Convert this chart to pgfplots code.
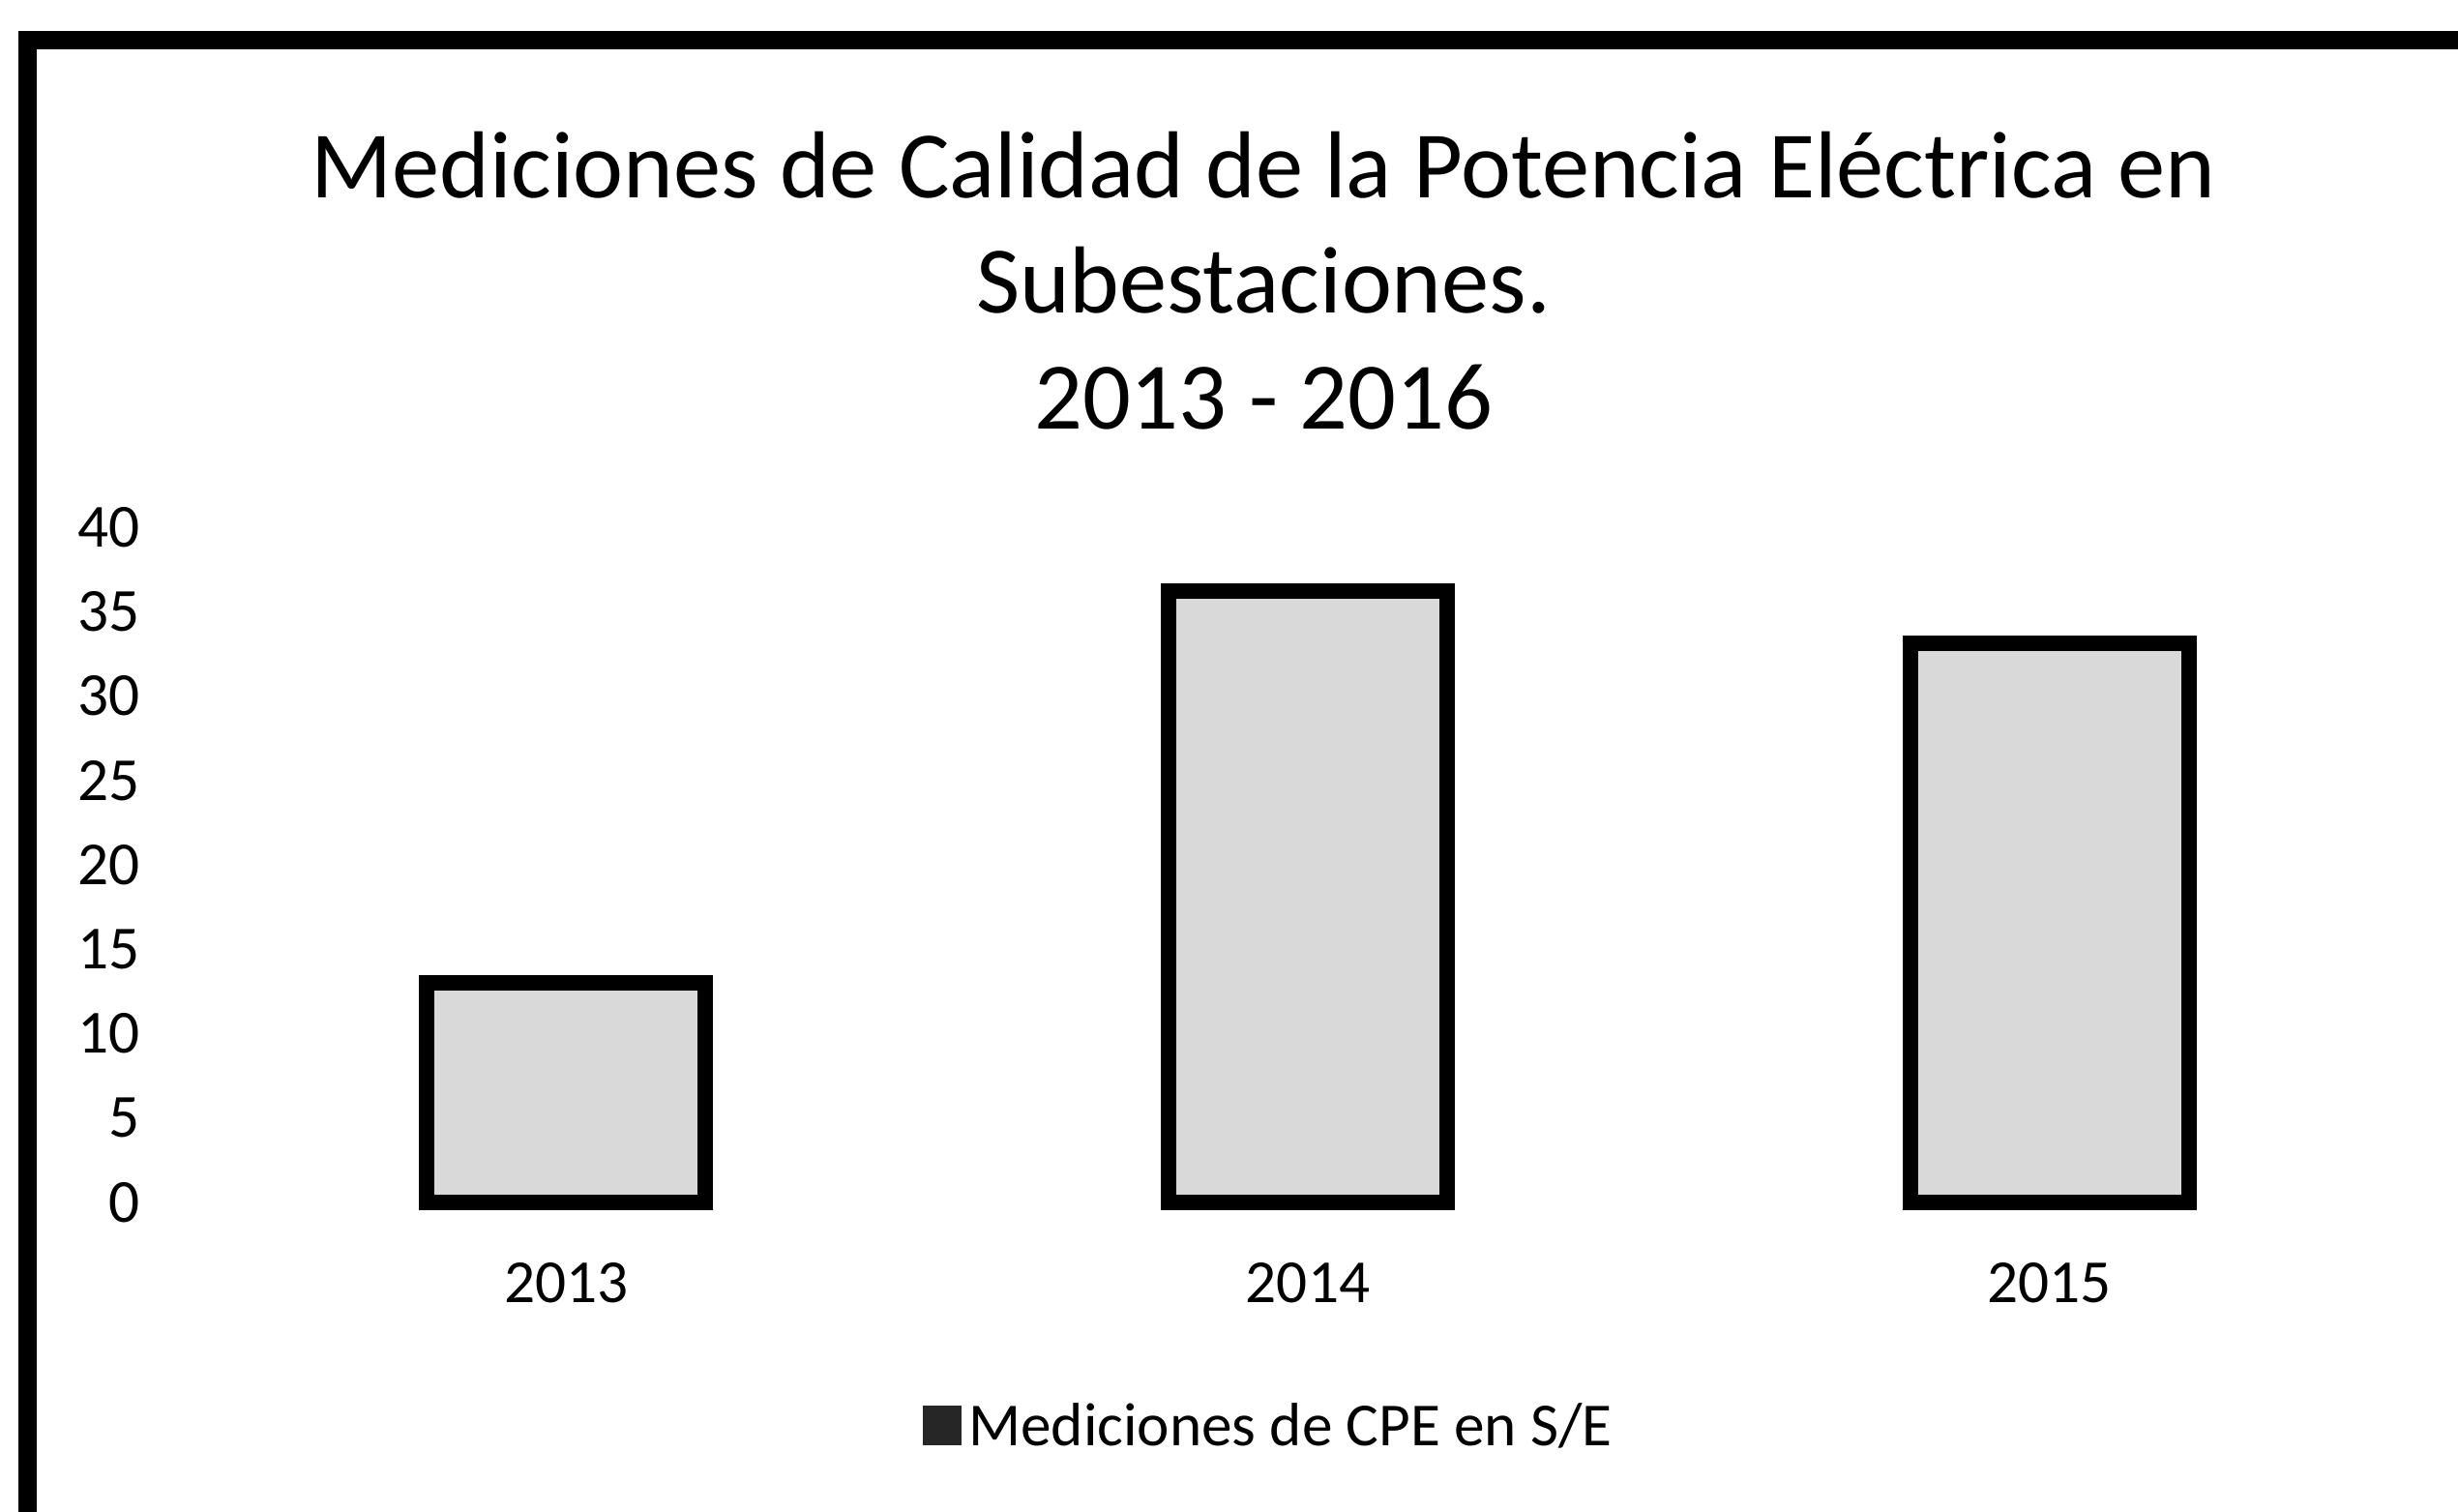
\documentclass[border=0pt]{standalone}
\usepackage{pgfplots}
\pgfplotsset{compat=1.18}
\usepackage{fontspec}
\setmainfont{Carlito}
\begin{document}
\begin{tikzpicture}[x=1cm,y=1cm]
\path[use as bounding box] (0,0) rectangle (25.41,15.62);
% frame (top and left edges visible)
\draw[line width=0.19cm, line cap=rect] (0.28,0) -- (0.28,15.2) -- (25.41,15.2);
\node[align=center, font=\fontsize{28}{34}\selectfont] at (13.06,12.72)
  {Mediciones de Calidad de la Potencia Eléctrica en\\Subestaciones.\\2013 - 2016};
\begin{axis}[
  at={(2.02cm,3.19cm)}, anchor=south west,
  scale only axis, width=23.0cm, height=6.98cm,
  xmin=-0.5, xmax=2.5, ymin=0, ymax=40,
  ybar, bar width=2.88cm, bar shift=0pt,
  clip=false,
  axis line style={draw=none},
  major tick length=0pt,
  xtick={0,1,2}, xticklabels={2013,2014,2015},
  ytick={0,5,...,40},
  /pgf/number format/assume math mode=true,
  tick label style={font=\fontsize{18}{22}\selectfont},
  yticklabel style={xshift=-0.45cm},
  xticklabel style={yshift=-0.5cm},
  legend style={at={(0.4835,-0.332)}, anchor=center, draw=none,
    font=\fontsize{18}{22}\selectfont, legend cell align=left},
  legend image code/.code={\fill[black!85] (0.02cm,-0.11cm) rectangle (0.26cm,0.14cm);},
]
\addplot[draw=black, line width=0.16cm, fill=black!15] coordinates {(0,13) (1,36.2) (2,33.1)};
\addlegendentry{Mediciones de CPE en S/E}
\end{axis}
\end{tikzpicture}
\end{document}
